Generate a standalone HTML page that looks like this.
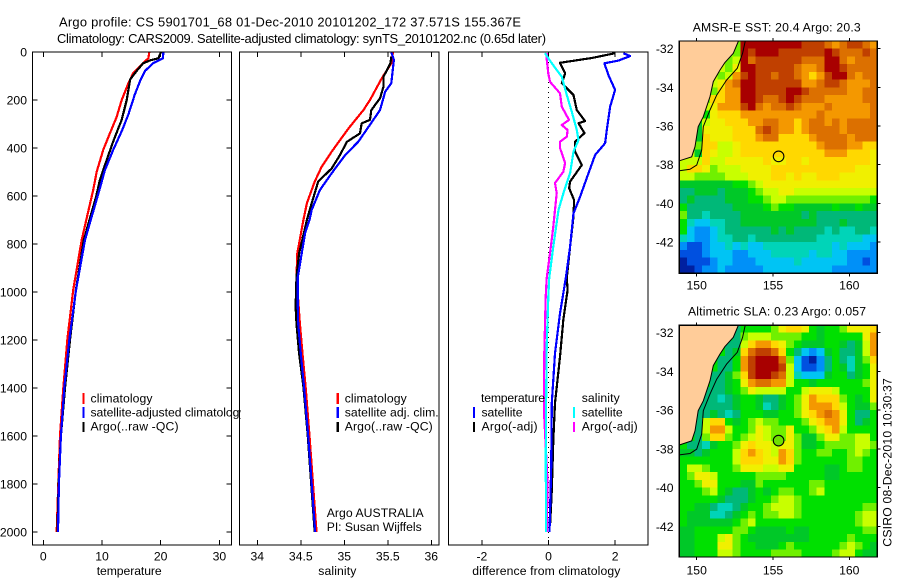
<!DOCTYPE html>
<html lang="en">
<head>
<meta charset="utf-8">
<title>Argo profile 5901701_68</title>
<style>
html,body{margin:0;padding:0;background:#fff;}
svg{display:block;}
text{font-family:"Liberation Sans",sans-serif;font-size:12.2px;fill:#000;}
.title{font-size:12.9px;}
.frame{fill:none;stroke:#000;stroke-width:1.2;shape-rendering:crispEdges;}
.tick{stroke:#000;stroke-width:1;shape-rendering:crispEdges;}
.line{fill:none;stroke-width:2.2;shape-rendering:crispEdges;stroke-linejoin:round;}
.key{stroke-width:2.4;shape-rendering:crispEdges;}
</style>
</head>
<body>
<svg id="chart" xmlns="http://www.w3.org/2000/svg" width="900" height="580" viewBox="0 0 900 580">
<defs>
<clipPath id="clip-legend"><rect x="0" y="380" width="240.5" height="60"/></clipPath>
<clipPath id="clip-map1"><rect x="679.3" y="41" width="198" height="232.3"/></clipPath>
<clipPath id="clip-map2"><rect x="679.3" y="325.3" width="198" height="231.7"/></clipPath>
</defs>
<rect x="0" y="0" width="900" height="580" fill="#fff"/>

<text class="title" x="59" y="26.5" textLength="462">Argo profile: CS 5901701_68 01-Dec-2010 20101202_172 37.571S 155.367E</text>
<text class="title" x="57" y="43" textLength="489">Climatology: CARS2009. Satellite-adjusted climatology: synTS_20101202.nc (0.65d later)</text>

<!-- temperature panel -->
<g>
<g id="temp-ticks"></g>
<polyline id="temp-clim" class="line" stroke="#ff0000"/>
<polyline id="temp-argo" class="line" stroke="#000000"/>
<polyline id="temp-sat" class="line" stroke="#0000ff"/>
<rect class="frame" x="32.5" y="52" width="199" height="493"/>
<text x="96.7" y="575" textLength="65">temperature</text>
<g>
<line class="key" x1="83.5" y1="393" x2="83.5" y2="404" stroke="#ff0000"/>
<line class="key" x1="83.5" y1="407" x2="83.5" y2="418" stroke="#0000ff"/>
<line class="key" x1="83.5" y1="422" x2="83.5" y2="432" stroke="#000000"/>
<text x="90.5" y="402.5" textLength="62">climatology</text>
<g clip-path="url(#clip-legend)"><text x="90.5" y="416.5" textLength="155">satellite-adjusted climatology</text></g>
<text x="90.5" y="430.5" textLength="88">Argo(..raw -QC)</text>
</g>
</g>

<!-- salinity panel -->
<g>
<g id="sal-ticks"></g>
<polyline id="sal-clim" class="line" stroke="#ff0000"/>
<polyline id="sal-argo" class="line" stroke="#000000"/>
<polyline id="sal-sat" class="line" stroke="#0000ff"/>
<rect class="frame" x="239.5" y="52" width="199.5" height="493"/>
<text x="318.3" y="575" textLength="38">salinity</text>
<g>
<line class="key" x1="337.7" y1="393" x2="337.7" y2="404" stroke="#ff0000"/>
<line class="key" x1="337.7" y1="407" x2="337.7" y2="418" stroke="#0000ff"/>
<line class="key" x1="337.7" y1="422" x2="337.7" y2="432" stroke="#000000"/>
<text x="344.7" y="402.5" textLength="62">climatology</text>
<text x="344.7" y="416.5" textLength="94">satellite adj. clim.</text>
<text x="344.7" y="430.5" textLength="88">Argo(..raw -QC)</text>
</g>
<text x="326.7" y="517" textLength="97">Argo AUSTRALIA</text>
<text x="326.7" y="531" textLength="95">PI: Susan Wijffels</text>
</g>

<!-- difference panel -->
<g>
<g id="diff-ticks"></g>
<line x1="548.5" y1="52" x2="548.5" y2="545" stroke="#000" stroke-width="1" stroke-dasharray="1 4"/>
<polyline id="diff-t-argo" class="line" stroke="#000000"/>
<polyline id="diff-t-sat" class="line" stroke="#0000ff"/>
<polyline id="diff-s-argo" class="line" stroke="#ff00ff"/>
<polyline id="diff-s-sat" class="line" stroke="#00ffff"/>
<rect class="frame" x="448.5" y="52" width="199.5" height="493"/>
<text x="472.3" y="575" textLength="148">difference from climatology</text>
<g>
<text x="481" y="402" textLength="64">temperature</text>
<text x="481.5" y="416.5" textLength="41">satellite</text>
<text x="481.5" y="430.5" textLength="56">Argo(-adj)</text>
<text x="581.7" y="402" textLength="38">salinity</text>
<text x="581.7" y="416.5" textLength="41">satellite</text>
<text x="581.7" y="430.5" textLength="56">Argo(-adj)</text>
<line class="key" x1="474" y1="407" x2="474" y2="418" stroke="#0000ff"/>
<line class="key" x1="474" y1="422" x2="474" y2="432" stroke="#000000"/>
<line class="key" x1="574" y1="407" x2="574" y2="418" stroke="#00ffff"/>
<line class="key" x1="574" y1="422" x2="574" y2="432" stroke="#ff00ff"/>
</g>
</g>

<!-- SST map -->
<g>
<text x="776.7" y="31.5" text-anchor="middle" textLength="168">AMSR-E SST: 20.4 Argo: 20.3</text>
<g id="map1-cells" clip-path="url(#clip-map1)"></g>
<g clip-path="url(#clip-map1)">
<polygon id="map1-land" fill="#ffcc99" stroke="#000" stroke-width="1"/>
<polyline id="map1-isobath" fill="none" stroke="#000" stroke-width="1"/>
</g>
<circle id="map1-float" fill="none" stroke="#000" stroke-width="1.1" r="5.3"/>
<rect class="frame" x="679.3" y="41" width="198" height="232.3"/>
<g id="map1-ticks"></g>
</g>

<!-- SLA map -->
<g>
<text x="777" y="315.7" text-anchor="middle" textLength="178">Altimetric SLA: 0.23 Argo: 0.057</text>
<g id="map2-cells" clip-path="url(#clip-map2)"></g>
<g clip-path="url(#clip-map2)">
<polygon id="map2-land" fill="#ffcc99" stroke="#000" stroke-width="1"/>
<polyline id="map2-isobath" fill="none" stroke="#000" stroke-width="1"/>
</g>
<circle id="map2-float" fill="#70e000" stroke="#000" stroke-width="1.1" r="5.3"/>
<rect class="frame" x="679.3" y="325.3" width="198" height="231.7"/>
<g id="map2-ticks"></g>
</g>

<text transform="translate(891.5,546.7) rotate(-90)" textLength="168.5">CSIRO 08-Dec-2010 10:30:37</text>
</svg>

<script>
// ---------- tick labels ----------
var depthTicks = [0,200,400,600,800,1000,1200,1400,1600,1800,2000];
var tempTicks = [0,10,20,30];
var salTicks = [34,34.5,35,35.5,36];
var diffTicks = [-2,0,2];
var lonTicks = [150,155,160];
var latTicks = [-32,-34,-36,-38,-40,-42];

// ---------- temperature profiles ----------
var tempClimDepth = [0,26,47,89,130,200,270,338,408,499,575,783,992,1200,1400,1600,1800,2000];
var tempClimValue = [18.06,17.9,17.0,15.3,14.5,13.35,12.5,11.36,10.2,9.1,8.5,6.54,5.1,4.09,3.4,2.85,2.55,2.28];
var tempSatDepth = [0,26,47,79,120,176,260,330,408,492,575,783,992,1200,1400,1600,1800,2000];
var tempSatValue = [20.45,20.4,18.7,17.3,16.5,15.6,14.5,13.35,11.9,10.5,9.55,7.1,5.57,4.43,3.58,3.0,2.65,2.5];
var tempArgoDepth = [0,26,35,47,79,114,200,283,317,373,450,533,603,783,992,1200,1400,1600,1800,2000];
var tempArgoValue = [20.05,19.6,18.2,17.0,15.9,14.8,14.2,13.35,12.8,11.9,10.8,9.65,9.0,6.9,5.55,4.55,3.7,3.0,2.6,2.4];

// ---------- salinity profiles ----------
var salClimDepth = [0,47,110,200,242,318,415,478,540,630,700,839,937,1132,1257,1394,1600,1800,2000];
var salClimValue = [35.56,35.54,35.43,35.295,35.22,35.05,34.855,34.74,34.66,34.57,34.53,34.46,34.45,34.49,34.52,34.555,34.6,34.64,34.68];
var salSatDepth = [0,33,130,165,242,311,374,429,505,575,658,700,755,839,937,1062,1132,1257,1394,1600,1800,2000];
var salSatValue = [35.54,35.57,35.54,35.47,35.41,35.28,35.16,35.01,34.855,34.72,34.625,34.6,34.55,34.51,34.465,34.465,34.47,34.5,34.537,34.585,34.625,34.665];
var salArgoDepth = [20,47,103,144,193,242,283,297,339,374,429,485,540,630,700,839,937,1062,1132,1257,1394,1600,1800,2000];
var salArgoValue = [35.54,35.53,35.45,35.45,35.41,35.31,35.295,35.2,35.18,35.03,34.95,34.855,34.70,34.625,34.57,34.48,34.45,34.44,34.45,34.48,34.53,34.58,34.62,34.66];

// ---------- differences from climatology ----------
var diffTSatDepth = [5,17,36,47,96,158,228,325,380,429,505,603,672,811,942,1089,1256,1463,1729,1999];
var diffTSatValue = [2.25,2.45,2.1,1.68,1.8,2.0,1.85,1.75,1.7,1.4,1.2,0.95,0.75,0.65,0.52,0.345,0.195,0.1,0.08,0.03];
var diffTArgoDepth = [5,25,45,89,130,179,242,288,297,338,374,415,471,540,567,617,686,811,942,992,1117,1270,1463,1617,1825,1963];
var diffTArgoValue = [2.0,1.3,0.345,0.5,0.4,0.75,0.85,1.1,0.9,1.08,0.8,0.8,1.0,0.65,0.62,0.77,0.75,0.65,0.55,0.575,0.445,0.345,0.195,0.145,0.1,0.05];
var diffSSatDepth = [5,47,103,179,249,325,367,415,505,590,658,811,942,1020,1228,1505,1710,1999];
var diffSSatValue = [-0.105,0.1,0.4,0.55,0.7,0.85,0.9,0.75,0.65,0.445,0.3,0.145,0.02,-0.005,-0.055,-0.075,-0.08,-0.075];
var diffSArgoDepth = [5,30,89,124,172,228,283,304,325,353,374,400,463,499,546,588,728,839,942,1020,1256,1400,1525,1600,1770,1850,2000];
var diffSArgoValue = [-0.055,-0.055,-0.005,0.045,0.345,0.4,0.615,0.4,0.575,0.55,0.345,0.345,0.5,0.445,0.195,0.245,0.145,0.045,-0.055,-0.085,-0.125,-0.135,-0.125,-0.1,-0.035,-0.035,-0.05];

// ---------- map data ----------
var floatLon = 155.367;
var floatLat = -37.571;
var coastLon = [152.79,152.4,151.85,151.53,151.09,150.87,150.43,150.1,149.89,149.67,148.86,148.0,148.0];
var coastLat = [-31.5,-32.24,-32.72,-33.1,-33.7,-34.48,-35.52,-36.03,-37.07,-37.59,-37.8,-37.8,-31.5];
var isobathLon = [153.21,153.01,152.66,151.96,151.31,150.87,150.43,150.33,150,149.56,148.86];
var isobathLat = [-31.5,-32.24,-33.01,-33.62,-34.4,-35.17,-36.03,-37.24,-38.02,-38.24,-38.31];

// colour levels 0..15 for both heat maps (30 rows north to south, 26 columns west to east)
var levelColors = ['#0020a0','#0050e0','#0090f8','#00c4f4','#00d4b8','#00b878','#00c828','#00e000','#70f000','#c8ff00','#f0f000','#ffd800','#f49800','#dc7000','#c04000','#a80000'];
var sstGrid = [
[9,9,9,9,9,9,9,8,15,15,15,15,15,15,15,15,14,14,14,13,12,13,14,14,13,12],
[9,9,9,9,9,9,9,8,15,14,15,15,15,14,14,14,14,14,14,15,14,13,13,13,14,13],
[9,9,9,9,9,9,8,9,15,13,14,14,14,14,14,14,13,13,13,15,15,13,12,13,13,13],
[9,9,9,9,9,9,8,10,15,15,14,14,14,14,14,13,12,12,13,15,15,14,13,13,13,13],
[9,9,9,9,9,8,9,12,14,15,14,14,13,14,14,13,12,11,12,14,15,15,13,12,13,13],
[9,9,9,9,9,10,12,13,15,15,14,14,14,14,14,14,12,12,13,14,14,13,12,12,12,13],
[9,9,9,9,8,11,12,12,15,15,14,14,14,14,15,15,14,13,13,13,13,13,12,12,13,13],
[9,9,9,8,11,11,12,12,15,15,14,13,13,14,15,14,13,13,13,12,12,12,12,12,13,13],
[9,9,9,9,10,12,12,12,14,15,13,12,13,13,14,13,12,12,12,13,12,12,12,12,12,13],
[9,9,9,7,10,11,11,11,12,12,12,12,12,12,12,12,12,12,13,12,12,12,12,12,12,13],
[9,9,6,9,10,10,11,11,11,12,12,13,13,12,12,11,12,13,13,12,13,12,13,13,13,13],
[9,9,6,10,10,10,10,11,11,11,13,14,13,12,12,11,12,13,13,13,13,12,13,13,13,13],
[9,9,6,11,10,10,10,11,11,11,12,13,13,11,11,11,11,12,13,13,13,13,12,13,13,13],
[9,9,8,11,11,9,9,10,11,11,11,11,11,11,11,11,11,11,12,13,13,13,12,12,11,11],
[9,9,6,11,10,9,9,10,11,11,11,11,11,11,11,11,11,11,11,12,12,12,11,11,11,10],
[9,9,9,11,9,9,10,10,10,10,10,11,10,10,11,11,10,11,11,11,11,11,11,11,11,10],
[9,11,11,10,8,9,9,9,10,10,10,10,11,11,11,11,11,11,11,11,11,11,11,10,10,10],
[9,9,8,8,8,8,9,9,9,10,10,10,11,11,10,11,10,10,11,11,11,10,10,10,10,10],
[6,6,6,6,6,6,6,7,7,8,9,10,10,10,10,10,10,10,10,10,10,10,10,10,10,10],
[5,5,6,6,6,5,6,6,6,7,8,9,9,10,10,9,9,9,9,9,9,9,9,9,9,9],
[5,6,5,5,5,5,6,6,6,7,7,8,9,9,8,8,8,8,8,8,8,8,8,8,8,7],
[7,5,5,5,5,5,5,6,6,6,6,7,8,7,7,6,6,6,6,6,7,6,6,7,6,6],
[8,5,5,4,5,5,5,5,6,6,6,6,6,6,6,6,5,6,5,5,5,5,5,5,5,5],
[7,4,3,3,4,4,5,5,6,6,6,6,6,6,6,6,6,6,5,5,5,6,5,5,5,5],
[7,3,2,2,3,4,5,5,5,5,5,5,6,5,6,5,5,5,5,4,5,4,4,5,5,4],
[4,3,2,2,3,4,4,5,5,4,5,5,5,5,5,5,5,5,4,4,4,4,4,4,3,3],
[2,1,1,2,3,3,4,3,4,3,3,4,4,4,4,4,4,4,4,4,3,4,3,3,3,2],
[1,1,1,2,3,3,3,2,2,3,3,3,4,4,4,4,4,3,4,4,3,3,2,2,2,2],
[0,1,1,1,2,3,3,2,2,2,3,3,3,3,3,4,3,3,3,3,3,3,2,2,1,2],
[0,0,1,2,2,3,2,2,2,2,2,3,3,3,3,3,3,3,3,3,2,2,2,2,2,2]
];
var slaGrid = [
[7,7,7,7,7,7,7,5,7,7,7,7,8,10,11,11,10,7,6,7,7,8,10,10,10,11],
[7,7,7,7,7,7,7,5,8,9,9,9,8,8,8,8,7,7,6,7,7,7,7,7,10,12],
[7,7,7,7,7,7,5,5,9,11,12,12,11,10,8,7,6,6,6,7,7,6,5,6,9,12],
[7,7,7,7,7,7,5,6,11,13,14,14,13,11,7,5,3,2,3,6,7,5,5,6,9,12],
[7,7,7,7,7,5,5,7,12,14,15,15,15,13,8,3,1,0,2,5,7,5,4,6,8,11],
[7,7,7,7,7,5,5,7,12,14,15,15,15,14,9,3,1,1,2,5,7,6,4,6,7,10],
[7,7,7,7,5,5,6,8,11,14,15,15,14,13,9,4,3,3,3,6,7,7,5,6,7,10],
[7,7,7,7,5,5,6,7,10,12,13,13,12,12,9,7,7,6,7,7,7,7,7,7,8,10],
[7,7,7,5,5,5,6,7,8,10,9,9,9,9,7,7,9,10,10,10,9,7,7,7,7,10],
[7,7,7,5,5,4,5,6,7,7,6,5,5,6,7,8,10,12,11,11,11,8,7,6,7,10],
[7,7,5,5,5,5,5,6,7,7,6,4,5,6,7,8,10,12,12,12,11,9,7,6,6,8],
[7,7,5,5,6,5,4,5,7,7,7,6,6,7,7,8,10,11,12,13,12,10,7,5,5,7],
[7,7,5,9,11,11,7,6,7,8,9,8,8,7,7,7,8,10,11,12,12,10,7,5,6,7],
[7,7,5,9,12,12,9,7,7,8,10,9,8,8,10,7,7,8,10,11,12,9,7,7,7,7],
[7,7,5,8,11,11,8,7,8,9,10,9,8,8,10,8,6,6,8,10,10,8,8,9,9,7],
[7,5,5,4,6,7,7,8,10,11,10,10,9,10,10,8,6,6,7,8,8,8,8,9,9,8],
[6,6,5,6,7,7,7,9,11,12,11,10,9,12,11,8,7,7,8,8,7,7,8,9,8,7],
[7,7,7,7,7,7,7,9,11,11,11,10,10,12,11,8,7,7,7,7,7,7,8,8,7,7],
[7,9,9,8,7,7,7,8,10,10,10,9,9,10,10,7,7,7,7,6,6,7,8,8,7,7],
[7,8,10,10,9,7,7,7,7,7,8,8,8,8,7,7,7,7,7,6,6,7,7,7,7,7],
[7,7,8,10,10,7,7,7,6,6,8,7,7,7,7,7,7,8,8,7,7,7,7,7,7,7],
[7,7,7,8,9,7,6,5,5,6,7,6,7,8,8,7,7,8,9,7,7,7,7,7,7,7],
[7,7,7,7,7,6,5,5,5,6,7,7,8,9,9,8,7,7,7,7,7,7,7,7,7,7],
[7,7,6,6,5,4,4,5,6,7,7,8,9,9,9,8,7,7,7,7,7,7,7,7,8,8],
[7,6,6,6,4,4,5,6,7,8,7,8,8,9,9,8,7,7,7,7,7,7,7,8,9,9],
[7,6,6,6,6,6,6,7,8,9,7,7,7,7,7,7,7,7,7,7,7,7,7,8,9,9],
[6,6,7,7,7,7,7,8,8,7,6,6,6,6,7,6,6,7,7,7,7,7,7,7,8,8],
[6,6,7,7,7,9,10,8,7,6,6,6,6,6,6,6,6,7,7,7,7,7,8,7,7,7],
[6,6,7,7,7,10,10,8,7,7,6,6,6,7,8,7,7,7,7,7,7,8,9,8,7,6],
[6,6,7,7,7,9,9,8,7,7,7,7,8,8,8,8,7,7,7,7,8,9,9,7,6,6]
];

// ---------- axis functions ----------
var SVGNS = 'http://www.w3.org/2000/svg';
function yDepth(d){ return 52 + d * 0.24; }
function xTemp(t){ return 43.3 + t * 5.87; }
function xSal(s){ return 257.3 + (s - 34) * 87; }
function xDiff(v){ return 548.5 + v * 33.3; }
function xLon(lon){ return 696.7 + (lon - 150) * 15.26; }
function yLat1(lat){ return 48.7 + (-32 - lat) * 19.33; }
function yLat2(lat){ return 332.7 + (-32 - lat) * 19.36; }

function setPoints(id, xs, ds, xFn){
  var pts = [];
  for (var i = 0; i < xs.length; i++) {
    pts.push(xFn(xs[i]).toFixed(1) + ',' + yDepth(ds[i]).toFixed(1));
  }
  document.getElementById(id).setAttribute('points', pts.join(' '));
}
setPoints('temp-clim', tempClimValue, tempClimDepth, xTemp);
setPoints('temp-argo', tempArgoValue, tempArgoDepth, xTemp);
setPoints('temp-sat', tempSatValue, tempSatDepth, xTemp);
setPoints('sal-clim', salClimValue, salClimDepth, xSal);
setPoints('sal-argo', salArgoValue, salArgoDepth, xSal);
setPoints('sal-sat', salSatValue, salSatDepth, xSal);
setPoints('diff-t-argo', diffTArgoValue, diffTArgoDepth, xDiff);
setPoints('diff-t-sat', diffTSatValue, diffTSatDepth, xDiff);
setPoints('diff-s-argo', diffSArgoValue, diffSArgoDepth, xDiff);
setPoints('diff-s-sat', diffSSatValue, diffSSatDepth, xDiff);

function addTick(parent, x1, y1, x2, y2){
  var el = document.createElementNS(SVGNS, 'line');
  el.setAttribute('class', 'tick');
  el.setAttribute('x1', x1);
  el.setAttribute('y1', y1);
  el.setAttribute('x2', x2);
  el.setAttribute('y2', y2);
  
  
  parent.appendChild(el);
}
function addLabel(parent, x, y, anchor, str){
  var el = document.createElementNS(SVGNS, 'text');
  el.setAttribute('x', x);
  el.setAttribute('y', y);
  el.setAttribute('text-anchor', anchor);
  el.textContent = str;
  
  
  parent.appendChild(el);
}

// bottom/top ticks on the profile panels
function profileXAxis(groupId, ticks, xFn){
  var g = document.getElementById(groupId);
  ticks.forEach(function(v){
    var x = xFn(v);
    addTick(g, x, 52, x, 57);
    addTick(g, x, 545, x, 540);
    addLabel(g, x, 560.5, 'middle', String(v));
  });
}
profileXAxis('temp-ticks', tempTicks, xTemp);
profileXAxis('sal-ticks', salTicks, xSal);
profileXAxis('diff-ticks', diffTicks, xDiff);

// depth axis on the temperature panel
(function(){
  var g = document.getElementById('temp-ticks');
  depthTicks.forEach(function(d){
    var y = yDepth(d);
    addTick(g, 32.5, y, 37.5, y);
    addTick(g, 231.5, y, 226.5, y);
    addLabel(g, 27, y + 4.5, 'end', String(d));
  });
})();

// maps
function drawMap(cellsId, grid, yLat, top, bottom, labelY, landId, isoId, floatId, ticksId){
  var g = document.getElementById(cellsId);
  var west = 148.86, dLon = 0.5;
  var latTop = -31.6, latBottom = -43.61;
  var dLat = (latTop - latBottom) / grid.length;
  grid.forEach(function(row, r){
    row.forEach(function(level, c){
      var x0 = xLon(west + c * dLon), x1 = xLon(west + (c + 1) * dLon);
      var y0 = yLat(latTop - r * dLat), y1 = yLat(latTop - (r + 1) * dLat);
      var el = document.createElementNS(SVGNS, 'rect');
      el.setAttribute('x', x0.toFixed(2));
      el.setAttribute('y', y0.toFixed(2));
      el.setAttribute('width', (x1 - x0 + 0.4).toFixed(2));
      el.setAttribute('height', (y1 - y0 + 0.4).toFixed(2));
      el.setAttribute('fill', levelColors[level]);
      el.setAttribute('shape-rendering', 'crispEdges');
      
      
      g.appendChild(el);
    });
  });
  var land = coastLon.map(function(lon, i){ return xLon(lon).toFixed(1) + ',' + yLat(coastLat[i]).toFixed(1); });
  document.getElementById(landId).setAttribute('points', land.join(' '));
  var iso = isobathLon.map(function(lon, i){ return xLon(lon).toFixed(1) + ',' + yLat(isobathLat[i]).toFixed(1); });
  document.getElementById(isoId).setAttribute('points', iso.join(' '));
  var marker = document.getElementById(floatId);
  marker.setAttribute('cx', xLon(floatLon).toFixed(1));
  marker.setAttribute('cy', yLat(floatLat).toFixed(1));
  var t = document.getElementById(ticksId);
  lonTicks.forEach(function(lon){
    var x = xLon(lon);
    addTick(t, x, top, x, top - 3);
    addTick(t, x, bottom, x, bottom + 3);
    addLabel(t, x, labelY, 'middle', String(lon));
  });
  latTicks.forEach(function(lat){
    var y = yLat(lat);
    addTick(t, 877.3, y, 880.3, y);
    addLabel(t, 673.5, y + 4.5, 'end', String(lat));
  });
}
drawMap('map1-cells', sstGrid, yLat1, 41, 273.3, 289.5, 'map1-land', 'map1-isobath', 'map1-float', 'map1-ticks');
drawMap('map2-cells', slaGrid, yLat2, 325.3, 557, 574.5, 'map2-land', 'map2-isobath', 'map2-float', 'map2-ticks');
</script>
</body>
</html>
